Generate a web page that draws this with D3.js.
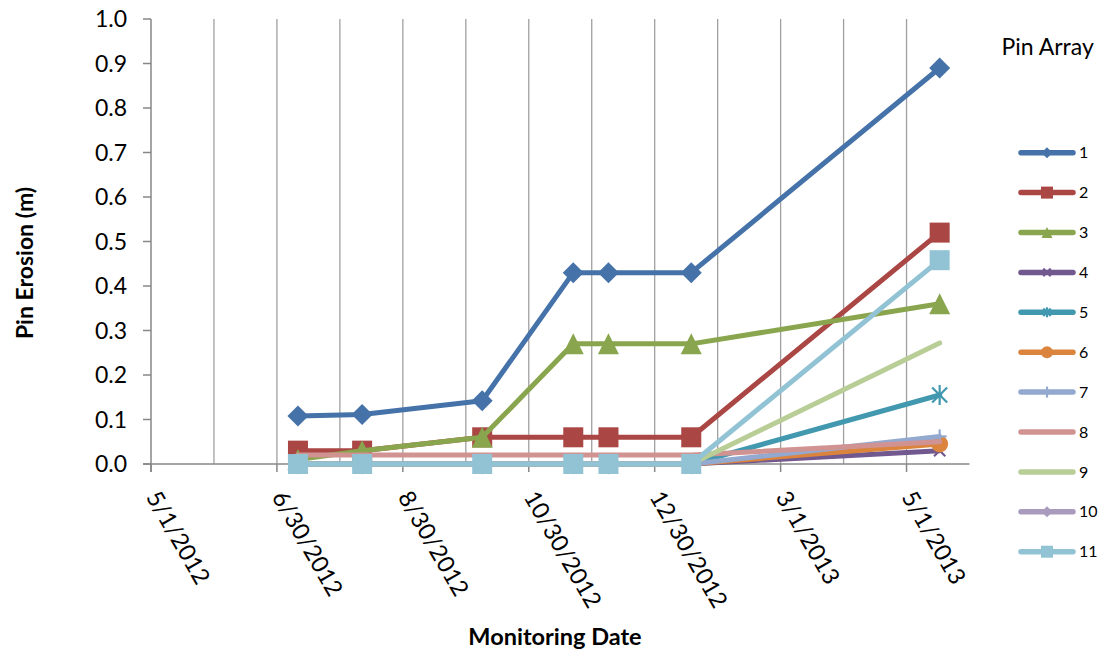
<!DOCTYPE html>
<html><head><meta charset="utf-8">
<script src="https://cdn.jsdelivr.net/npm/d3@7"></script>
<style>body{margin:0;background:#fff}svg{display:block}text{font-family:Lato,"Open Sans",sans-serif;fill:#000}</style>
</head><body><svg id="c" width="1113" height="653"></svg>
<script>
// ---- data ----
const dates = ["2012-07-11","2012-08-11","2012-10-08","2012-11-21","2012-12-08","2013-01-17","2013-05-17"];
const seriesNames = ["1","2","3","4","5","6","7","8","9","10","11"];
const s1  = [0.108, 0.111, 0.142, 0.43, 0.43, 0.43, 0.89];
const s2  = [0.03, 0.03, 0.06, 0.06, 0.06, 0.06, 0.52];
const s3  = [0.01, 0.03, 0.06, 0.27, 0.27, 0.27, 0.36];
const s4  = [0, 0, 0, 0, 0, 0, 0.03];
const s5  = [0, 0, 0, 0, 0, 0, 0.155];
const s6  = [0, 0, 0, 0, 0, 0, 0.045];
const s7  = [0, 0, 0, 0, 0, 0, 0.062];
const s8  = [0.02, 0.02, 0.02, 0.02, 0.02, 0.02, 0.05];
const s9  = [0, 0, 0, 0, 0, 0, 0.272];
const s10 = [0, 0, 0, 0, 0, 0, null];
const s11 = [0, 0, 0, 0, 0, 0, 0.458];
const seriesValues = [s1,s2,s3,s4,s5,s6,s7,s8,s9,s10,s11];
const colors = ["#4572A8","#AA4643","#89A54E","#71588F","#4198AF","#DB843D","#93A9CF","#D19392","#B9CD96","#A99BBD","#92C3D5"];
const markerTypes = ["diamond","square","triangle","x","star","circle","plus","none","none","diamond","square"];
const tickLabels = ["5/1/2012","6/30/2012","8/30/2012","10/30/2012","12/30/2012","3/1/2013","5/1/2013"];
const yTicks = [0,0.1,0.2,0.3,0.4,0.5,0.6,0.7,0.8,0.9,1.0];

// ---- layout ----
const parse = d3.timeParse("%Y-%m-%d");
const DAY = 864e5;
const axisStart = new Date(2012,4,1);
const majorDays = 365/6;
const axisEnd = new Date(+axisStart + 6.5*majorDays*DAY);
const x = d3.scaleTime().domain([axisStart, axisEnd]).range([151, 969.5]);
const y = d3.scaleLinear().domain([0,1]).range([464, 19]);
const majorTicks = tickLabels.map((l,i)=> new Date(+axisStart + i*majorDays*DAY));
const gridDates = d3.range(1,13).map(k=> new Date(+axisStart + k*majorDays/2*DAY));

const svg = d3.select("#c");
svg.append("rect").attr("width",1113).attr("height",653).attr("fill","#fff");

// grid
svg.append("g").selectAll("line").data(gridDates).join("line")
  .attr("x1",d=>x(d)).attr("x2",d=>x(d)).attr("y1",y(1)).attr("y2",y(0))
  .attr("stroke","#A0A0A0").attr("stroke-width",1.3);

// y axis
const gy = svg.append("g");
gy.append("line").attr("x1",151).attr("x2",151).attr("y1",y(1)).attr("y2",y(0)+8)
  .attr("stroke","#878787").attr("stroke-width",1.5);
gy.selectAll("line.t").data(yTicks).join("line").attr("class","t")
  .attr("x1",143).attr("x2",151).attr("y1",d=>y(d)).attr("y2",d=>y(d))
  .attr("stroke","#878787").attr("stroke-width",1.5);
gy.selectAll("text").data(yTicks).join("text")
  .attr("x",127).attr("y",d=>y(d)).attr("dy","0.35em").attr("text-anchor","end")
  .attr("font-size",23).text(d=>d3.format(".1f")(d));

// x axis
const gx = svg.append("g");
gx.append("line").attr("x1",143).attr("x2",x(axisEnd)).attr("y1",y(0)).attr("y2",y(0))
  .attr("stroke","#878787").attr("stroke-width",1.5);
gx.selectAll("line.t").data(majorTicks).join("line").attr("class","t")
  .attr("x1",d=>x(d)).attr("x2",d=>x(d)).attr("y1",y(0)).attr("y2",y(0)+8)
  .attr("stroke","#878787").attr("stroke-width",1.5);
gx.selectAll("text").data(majorTicks).join("text")
  .attr("transform",d=>`translate(${x(d)-5.6},497) rotate(60)`)
  .attr("font-size",23.5).text((d,i)=>tickLabels[i]);

// titles
svg.append("text").attr("x",555).attr("y",645).attr("text-anchor","middle")
  .attr("font-size",23.5).attr("font-weight","bold").text("Monitoring Date");
svg.append("text").attr("transform","translate(33,263) rotate(-90)").attr("text-anchor","middle")
  .attr("font-size",23).attr("font-weight","bold").text("Pin Erosion (m)");

// markers
function drawMarker(g, type, cx, cy, s, color){
  const h = s/2;
  if(type==="diamond") g.append("path").attr("d",`M${cx},${cy-h}L${cx+h},${cy}L${cx},${cy+h}L${cx-h},${cy}Z`).attr("fill",color);
  else if(type==="square") g.append("rect").attr("x",cx-h).attr("y",cy-h).attr("width",s).attr("height",s).attr("fill",color);
  else if(type==="triangle") g.append("path").attr("d",`M${cx},${cy-h}L${cx+h},${cy+h}L${cx-h},${cy+h}Z`).attr("fill",color);
  else if(type==="circle") g.append("circle").attr("cx",cx).attr("cy",cy).attr("r",h).attr("fill",color);
  else if(type==="x"||type==="star"||type==="plus"){
    const segs=[];
    if(type!=="plus"){ segs.push([cx-h*0.75,cy-h*0.75,cx+h*0.75,cy+h*0.75]); segs.push([cx-h*0.75,cy+h*0.75,cx+h*0.75,cy-h*0.75]); }
    if(type!=="x"){ segs.push([cx,cy-h,cx,cy+h]); }
    if(type==="plus"){ segs.push([cx-h,cy,cx+h,cy]); }
    segs.forEach(p=>g.append("line").attr("x1",p[0]).attr("y1",p[1]).attr("x2",p[2]).attr("y2",p[3])
      .attr("stroke",color).attr("stroke-width",2.2));
  }
}
const chartSize = {diamond:21,square:20,triangle:21,x:15,star:20,circle:17,plus:14};
const legendSize = {diamond:11,square:12,triangle:11,x:10,star:10,circle:12,plus:11};

// series
const xd = dates.map(parse);
const line = d3.line().defined(d=>d[1]!=null).x(d=>x(d[0])).y(d=>y(d[1]));
seriesValues.forEach((vals,i)=>{
  const g = svg.append("g");
  const pts = vals.map((v,j)=>[xd[j],v]);
  g.append("path").attr("d",line(pts)).attr("fill","none").attr("stroke",colors[i])
    .attr("stroke-width",5).attr("stroke-linejoin","round").attr("stroke-linecap","round");
  if(markerTypes[i]!=="none") pts.filter(p=>p[1]!=null).forEach(p=>drawMarker(g,markerTypes[i],x(p[0]),y(p[1]),chartSize[markerTypes[i]],colors[i]));
});

// legend
svg.append("text").attr("x",1001.5).attr("y",55).attr("font-size",23).text("Pin Array");
seriesNames.forEach((name,i)=>{
  const ly = 152.7 + i*39.9;
  const g = svg.append("g");
  g.append("line").attr("x1",1021).attr("x2",1073).attr("y1",ly).attr("y2",ly)
    .attr("stroke",colors[i]).attr("stroke-width",5.5).attr("stroke-linecap","round");
  if(markerTypes[i]!=="none") drawMarker(g,markerTypes[i],1047,ly,legendSize[markerTypes[i]],colors[i]);
  g.append("text").attr("x",1079).attr("y",ly).attr("dy","0.35em").attr("font-size",16).text(name);
});
</script></body></html>
